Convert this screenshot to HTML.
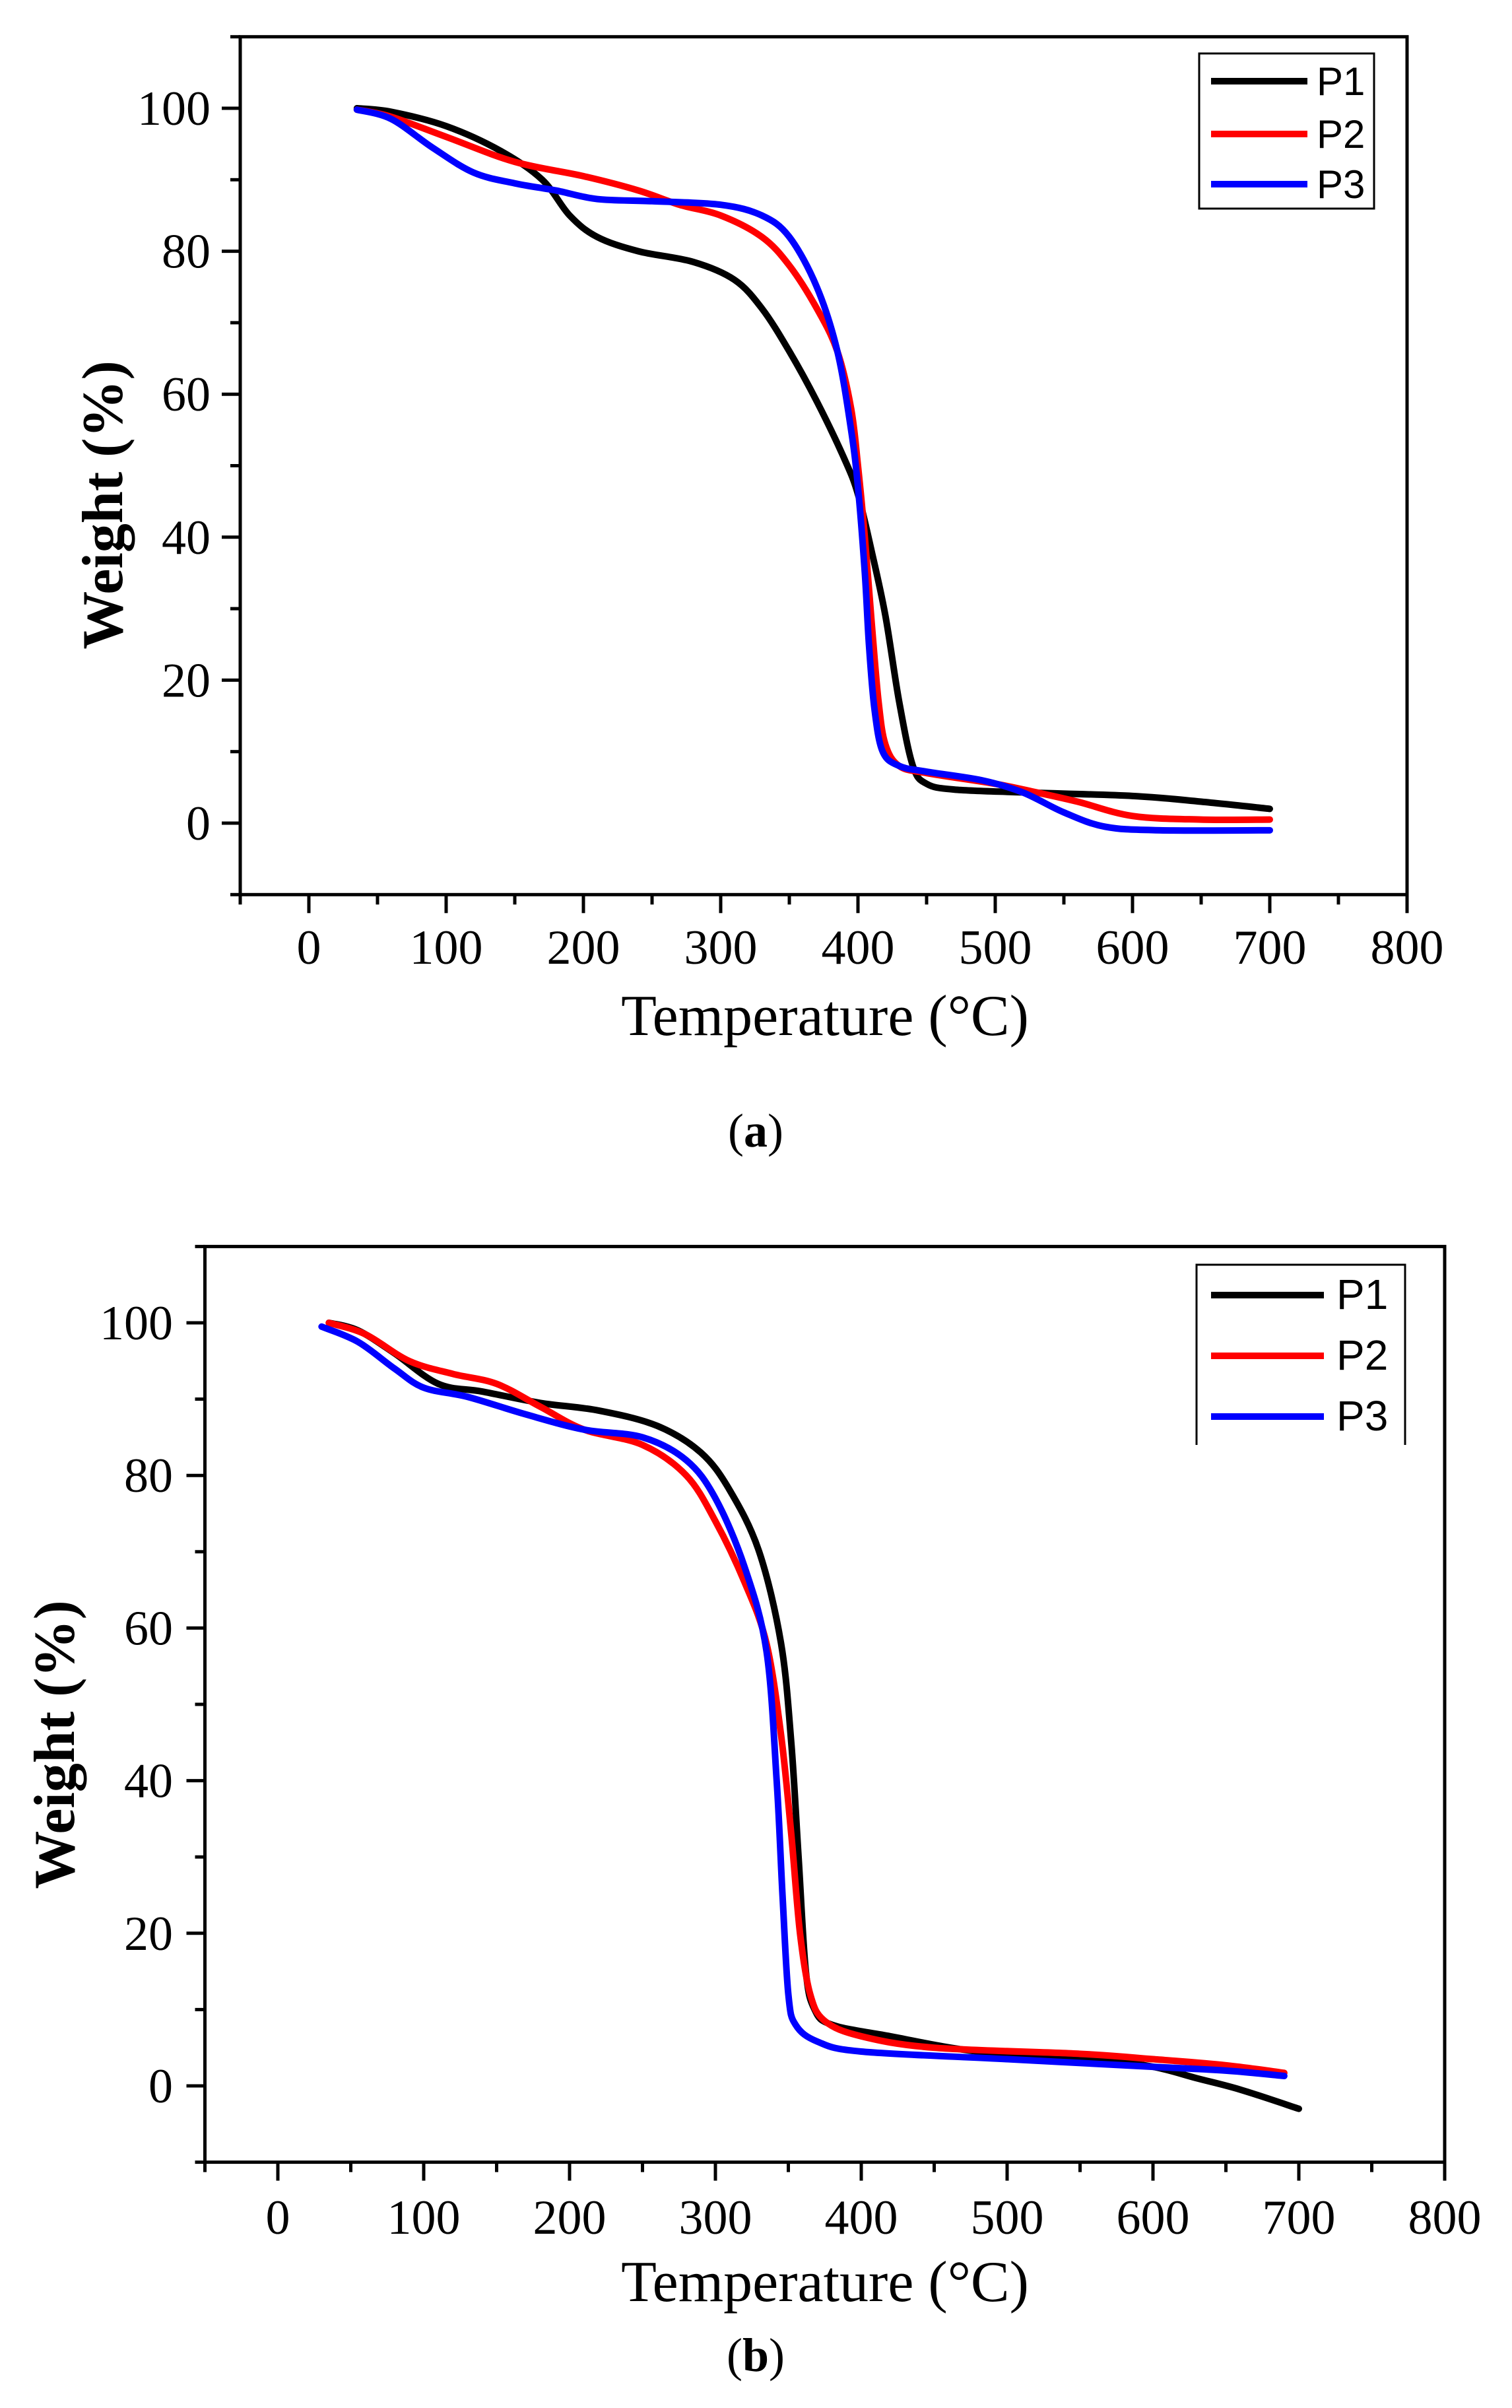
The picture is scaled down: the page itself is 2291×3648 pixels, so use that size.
<!DOCTYPE html>
<html><head><meta charset="utf-8"><style>
html,body{margin:0;padding:0;background:#fff;}
svg{display:block;}
text{font-family:"Liberation Serif",serif;fill:#000;}
.leg{font-family:"Liberation Sans",sans-serif;}
</style></head><body>
<svg id="s" width="2291" height="3648" viewBox="0 0 2291 3648" xmlns="http://www.w3.org/2000/svg"></svg>
<script>
var S=document.getElementById('s'),out='';
function panel(o){
 var X=function(t){return o.x0+o.kx*t},Y=function(w){return o.y0-o.ky*w};
 var L=X(-50),R=X(800),T=Y(110),B=Y(-10);
 out+='<rect x="'+L+'" y="'+T+'" width="'+(R-L)+'" height="'+(B-T)+'" fill="none" stroke="#000" stroke-width="5"/>';
 for(var t=-50;t<=800;t+=50){var maj=t%100==0;out+='<line x1="'+X(t)+'" x2="'+X(t)+'" y1="'+B+'" y2="'+(B+(maj?28:15))+'" stroke="#000" stroke-width="5"/>';
  if(maj)out+='<text x="'+X(t)+'" y="'+o.xl+'" font-size="74" text-anchor="middle">'+t+'</text>';}
 for(var w=-10;w<=110;w+=10){var maj=w%20==0;out+='<line x1="'+L+'" x2="'+(L-(maj?28:15))+'" y1="'+Y(w)+'" y2="'+Y(w)+'" stroke="#000" stroke-width="5"/>';
  if(maj&&w>=0&&w<=100)out+='<text x="'+o.yl+'" y="'+(Y(w)+25)+'" font-size="74" text-anchor="end">'+w+'</text>';}
 out+='<text x="'+o.tx+'" y="'+o.ty+'" font-size="88" text-anchor="middle">Temperature (°C)</text>';
 out+='<text transform="translate('+o.wx+','+o.wy+') rotate(-90)" font-size="88" font-weight="bold" text-anchor="middle">Weight (%)</text>';
 out+='<text x="1145" y="'+o.cy+'" font-size="72" text-anchor="middle">(<tspan font-weight="bold">'+o.cap+'</tspan>)</text>';
 var cols=['#000','#f00','#00f'];
 o.data.forEach(function(d,i){
  var p=d.map(function(q){return [X(q[0]),Y(q[1])]});
  var s='M'+p[0][0]+','+p[0][1];
  for(var k=0;k<p.length-1;k++){var a=p[k-1]||p[k],b=p[k],c=p[k+1],e=p[k+2]||c;
   s+=' C'+(b[0]+(c[0]-a[0])/6)+','+(b[1]+(c[1]-a[1])/6)+' '+(c[0]-(e[0]-b[0])/6)+','+(c[1]-(e[1]-b[1])/6)+' '+c[0]+','+c[1];}
  out+='<path d="'+s+'" fill="none" stroke="'+cols[i]+'" stroke-width="10" stroke-linecap="round" stroke-linejoin="round"/>';
 });
 var lg=o.lg;
 if(lg.closed)out+='<rect x="'+lg.x1+'" y="'+lg.y1+'" width="'+(lg.x2-lg.x1)+'" height="'+(lg.y2-lg.y1)+'" fill="#fff" stroke="#000" stroke-width="3"/>';
 else out+='<path d="M'+lg.x1+','+lg.y2+' V'+lg.y1+' H'+lg.x2+' V'+lg.y2+'" fill="#fff" stroke="#000" stroke-width="3"/>';
 lg.ys.forEach(function(y,i){out+='<line x1="'+lg.l1+'" x2="'+lg.l2+'" y1="'+y+'" y2="'+y+'" stroke="'+cols[i]+'" stroke-width="10"/>';
  out+='<text class="leg" x="'+lg.tx+'" y="'+(y+21)+'" font-size="'+lg.fs+'">P'+(i+1)+'</text>';});
}
panel({x0:468,kx:2.08,y0:1247,ky:10.83,xl:1460,yl:319,tx:1250,ty:1568,wx:185,wy:765,cy:1737,cap:'a',
 lg:{closed:true,x1:1817,y1:81,x2:2082,y2:316,l1:1835,l2:1981,tx:1995,ys:[123,203,279],fs:60},
 data:[
 [[35,100],[60,99.5],[100,97.5],[140,94],[170,90],[190,85],[210,82],[240,80],[280,78.5],[310,76],[330,72],[350,66],[370,59],[390,51],[400,46],[410,38],[420,29],[430,17],[440,8],[450,5.5],[470,4.7],[520,4.3],[600,3.8],[650,3],[700,2]],
 [[35,99.8],[60,98.8],[100,96],[150,92.5],[200,90.5],[240,88.5],[270,86.5],[300,85],[330,82],[350,78],[370,72],[385,66],[395,58],[400,50],[405,40],[410,28],[415,17],[420,11],[430,8],[450,7],[500,5.5],[530,4.3],[560,3],[600,1],[650,0.5],[700,0.5]],
 [[35,99.8],[60,98.5],[90,94.5],[120,91],[150,89.5],[180,88.5],[210,87.3],[250,87],[300,86.5],[330,85],[350,82],[370,75],[385,66],[395,55],[400,47],[405,35],[408,25],[412,16],[418,10],[430,8],[450,7.2],[490,6],[520,4.3],[550,1.5],[580,-0.5],[620,-1],[700,-1]]
 ]});
panel({x0:421,kx:2.21,y0:3160,ky:11.56,xl:3384,yl:262,tx:1250,ty:3486,wx:112,wy:2643,cy:3592,cap:'b',
 lg:{closed:false,x1:1813,y1:1916,x2:2129,y2:2189,l1:1835,l2:2006,tx:2025,ys:[1962,2054,2146],fs:64},
 data:[
 [[35,100],[55,99],[80,96],[110,92],[140,91],[180,89.5],[220,88.5],[260,86.5],[290,83],[310,78],[330,70],[345,58],[352,45],[357,30],[362,15],[368,10],[380,8],[420,6.5],[480,4.5],[560,3.5],[600,2.5],[630,1],[660,-0.5],[700,-3]],
 [[35,100],[60,98.5],[90,95],[120,93.3],[150,92],[180,89],[210,86],[250,84],[280,80],[300,74],[320,66],[335,58],[345,46],[352,33],[358,20],[365,12],[375,8.5],[400,6.5],[450,5],[550,4.2],[600,3.5],[650,2.7],[690,1.7]],
 [[30,99.5],[55,97.5],[80,94],[100,91.5],[130,90.3],[170,88],[210,86],[250,85],[280,82],[300,77],[320,68],[335,57],[342,40],[346,25],[350,12],[355,8],[370,5.8],[400,4.5],[500,3.5],[600,2.5],[650,2],[690,1.3]]
 ]});
S.innerHTML=out;
</script>
</body></html>
